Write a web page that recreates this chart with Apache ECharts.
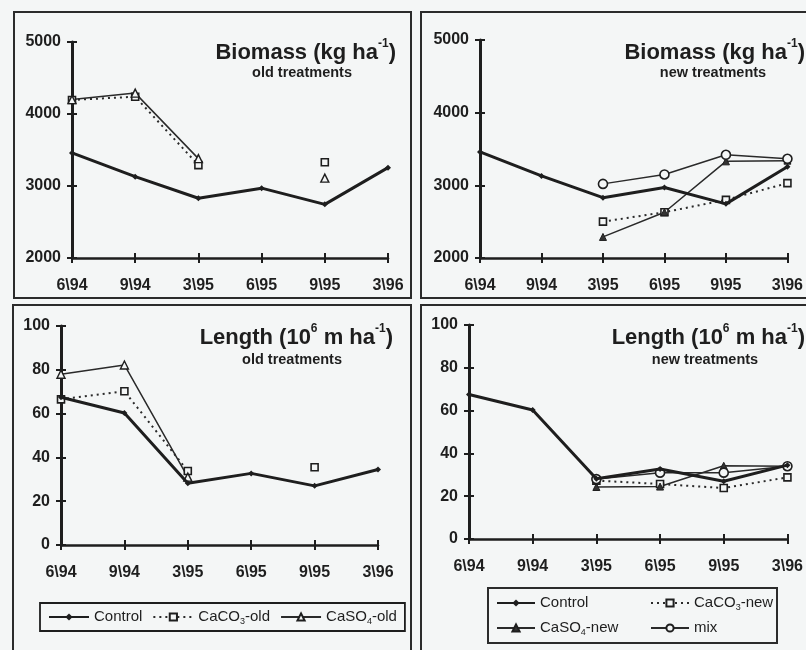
<!DOCTYPE html>
<html>
<head>
<meta charset="utf-8">
<script src="https://cdn.jsdelivr.net/npm/echarts@6/dist/echarts.min.js"></script>
<style>
html,body{margin:0;padding:0;background:#f4f6f6;}
#c{width:806px;height:650px;}
</style>
</head>
<body>
<div id="c"></div>
<script>
// ---- data ----
const categories = ["6\\94", "9\\94", "3\\95", "6\\95", "9\\95", "3\\96"];
const biomassTicks = [2000, 3000, 4000, 5000];
const lengthTicks = [0, 20, 40, 60, 80, 100];

const biomassControl  = [3460, 3130, 2830, 2970, 2745, 3255];
const biomassCaCO3Old = [4195, 4240, 3290, null, 3330, null];
const biomassCaSO4Old = [4200, 4290, 3380, null, 3110, null];
const biomassCaCO3New = [null, null, 2500, 2630, 2800, 3030];
const biomassCaSO4New = [null, null, 2290, 2630, 3330, 3340];
const biomassMix      = [null, null, 3020, 3150, 3420, 3365];

const lengthControl  = [67.5, 60.3, 28.2, 32.7, 27, 34.5];
const lengthCaCO3Old = [66.5, 70.2, 33.8, null, 35.5, null];
const lengthCaSO4Old = [78, 82.2, 31, null, null, null];
const lengthCaCO3New = [null, null, 27.3, 25.7, 23.8, 28.8];
const lengthCaSO4New = [null, null, 24.3, 24.5, 34.2, 34];
const lengthMix      = [null, null, 28, 31, 31, 34];

const seriesNames = {
  control: "Control", caco3Old: "CaCO3-old", caso4Old: "CaSO4-old",
  caco3New: "CaCO3-new", caso4New: "CaSO4-new", mix: "mix"
};
const legendLabels = {
  "Control": "Control", "CaCO3-old": "CaCO{sub|3}-old", "CaSO4-old": "CaSO{sub|4}-old",
  "CaCO3-new": "CaCO{sub|3}-new", "CaSO4-new": "CaSO{sub|4}-new", "mix": "mix"
};

// ---- styling ----
const BG = '#f4f6f6';
const INK = '#1e1e1e';
const FONT = '"Liberation Sans", Arial, sans-serif';

const grids = [
  {left: 72, right: 418, top: 42, bottom: 392},
  {left: 480, right: 16, top: 40, bottom: 392},
  {left: 61, right: 428, top: 326, bottom: 105},
  {left: 469, right: 14, top: 325, bottom: 111}
];

function xAxes(gi) {
  return [
    {gridIndex: gi, type: 'category', data: categories, boundaryGap: false, position: 'bottom',
     axisLine: {lineStyle: {color: INK, width: 2.5}},
     axisTick: {length: 5, lineStyle: {color: INK, width: 2}},
     axisLabel: {color: INK, fontSize: 16, fontWeight: 'bold', fontFamily: FONT, margin: 20},
     splitLine: {show: false}},
    {gridIndex: gi, type: 'category', data: categories, boundaryGap: false, position: 'bottom',
     axisLine: {show: false},
     axisTick: {inside: true, length: 5, lineStyle: {color: INK, width: 2}},
     axisLabel: {show: false}, splitLine: {show: false}}
  ];
}
function yAxes(gi, ticks) {
  const mn = ticks[0], mx = ticks[ticks.length - 1], iv = ticks[1] - ticks[0];
  return [
    {gridIndex: gi, type: 'value', min: mn, max: mx, interval: iv, position: 'left',
     axisLine: {show: true, lineStyle: {color: INK, width: 3}},
     axisTick: {show: true, length: 5, lineStyle: {color: INK, width: 2}},
     axisLabel: {color: INK, fontSize: 16, fontWeight: 'bold', fontFamily: FONT, margin: 11,
       formatter: v => String(v)},
     splitLine: {show: false}},
    {gridIndex: gi, type: 'value', min: mn, max: mx, interval: iv, position: 'left',
     axisLine: {show: false},
     axisTick: {show: true, inside: true, length: 5, lineStyle: {color: INK, width: 2}},
     axisLabel: {show: false}, splitLine: {show: false}}
  ];
}

function styleFor(kind) {
  switch (kind) {
    case 'control': return {lineStyle: {color: INK, width: 3}, symbol: 'diamond', symbolSize: 6,
      itemStyle: {color: INK}, z: 4};
    case 'caco3Old': case 'caco3New': return {lineStyle: {color: '#2a2a2a', width: 2, type: [2, 4]},
      symbol: 'rect', symbolSize: 7, itemStyle: {color: BG, borderColor: INK, borderWidth: 1.6}, z: 3};
    case 'caso4Old': return {lineStyle: {color: '#2a2a2a', width: 1.5}, symbol: 'triangle', symbolSize: 8,
      itemStyle: {color: BG, borderColor: INK, borderWidth: 1.4}, z: 3};
    case 'caso4New': return {lineStyle: {color: '#2a2a2a', width: 1.5}, symbol: 'triangle', symbolSize: 7,
      itemStyle: {color: '#333', borderColor: INK, borderWidth: 1}, z: 3};
    case 'mix': return {lineStyle: {color: '#2a2a2a', width: 1.5}, symbol: 'circle', symbolSize: 9,
      itemStyle: {color: BG, borderColor: INK, borderWidth: 1.6}, z: 3};
  }
}

function mk(kind, gi, data) {
  return Object.assign({type: 'line', name: seriesNames[kind], xAxisIndex: gi * 2, yAxisIndex: gi * 2,
    data: data, showSymbol: true, showAllSymbol: true, connectNulls: false, animation: false}, styleFor(kind));
}

const series = [
  mk('control', 0, biomassControl), mk('caco3Old', 0, biomassCaCO3Old), mk('caso4Old', 0, biomassCaSO4Old),
  mk('control', 1, biomassControl), mk('caco3New', 1, biomassCaCO3New), mk('caso4New', 1, biomassCaSO4New), mk('mix', 1, biomassMix),
  mk('control', 2, lengthControl), mk('caco3Old', 2, lengthCaCO3Old), mk('caso4Old', 2, lengthCaSO4Old),
  mk('control', 3, lengthControl), mk('caco3New', 3, lengthCaCO3New), mk('caso4New', 3, lengthCaSO4New), mk('mix', 3, lengthMix)
];

const legendText = {color: INK, fontSize: 15, fontFamily: FONT, lineHeight: 18,
  rich: {sub: {fontSize: 9, fontFamily: FONT, color: INK, verticalAlign: 'bottom', lineHeight: 12}}};

const legends = [
  {data: ['Control', 'CaCO3-old', 'CaSO4-old'], left: 40, top: 603, orient: 'horizontal',
   itemWidth: 40, itemHeight: 9, itemGap: 10, padding: [5, 8], borderColor: INK, borderWidth: 1.8,
   formatter: n => legendLabels[n], textStyle: legendText, selectedMode: false},
  {data: ['Control', 'CaCO3-new'], left: 496, top: 594, orient: 'horizontal',
   itemWidth: 38, itemHeight: 9, itemGap: 10, padding: 0,
   formatter: n => legendLabels[n], textStyle: Object.assign({width: 100}, legendText), selectedMode: false},
  {data: ['CaSO4-new', 'mix'], left: 496, top: 619, orient: 'horizontal',
   itemWidth: 38, itemHeight: 9, itemGap: 10, padding: 0,
   formatter: n => legendLabels[n], textStyle: Object.assign({width: 100}, legendText), selectedMode: false}
];

function titleText(x, y, main) {
  return {type: 'text', x: x, y: y, z: 10, style: {
    text: main, align: 'right', verticalAlign: 'top', fill: INK,
    rich: {
      t: {fontSize: 22, fontWeight: 'bold', fontFamily: FONT, fill: INK, lineHeight: 26, verticalAlign: 'bottom'},
      sup: {fontSize: 12, fontWeight: 'bold', fontFamily: FONT, fill: INK, lineHeight: 16, verticalAlign: 'top'}
    }}};
}
function subText(x, y, s) {
  return {type: 'text', x: x, y: y, z: 10, style: {text: s, align: 'center', verticalAlign: 'middle',
    fontSize: 14.5, fontWeight: 'bold', fontFamily: FONT, fill: INK}};
}
function box(x1, y1, x2, y2) {
  return {type: 'rect', z: 0, shape: {x: x1, y: y1, width: x2 - x1, height: y2 - y1},
    style: {fill: 'none', stroke: '#2b2b2b', lineWidth: 2}};
}

const graphics = [
  box(14, 12, 411, 298), box(421, 12, 812, 298),
  box(13, 305, 411, 656), box(421, 305, 812, 656),
  box(488, 588, 777, 643),
  titleText(396, 38, '{t|Biomass (kg ha}{sup|-1}{t|)}'),
  subText(302, 73, 'old treatments'),
  titleText(805, 38, '{t|Biomass (kg ha}{sup|-1}{t|)}'),
  subText(713, 73, 'new treatments'),
  titleText(393, 323, '{t|Length (10}{sup|6}{t| m ha}{sup|-1}{t|)}'),
  subText(292, 360, 'old treatments'),
  titleText(805, 323, '{t|Length (10}{sup|6}{t| m ha}{sup|-1}{t|)}'),
  subText(705, 360, 'new treatments')
];

const chart = echarts.init(document.getElementById('c'), null, {renderer: 'canvas'});
chart.setOption({
  backgroundColor: BG,
  animation: false,
  grid: grids,
  xAxis: [].concat(xAxes(0), xAxes(1), xAxes(2), xAxes(3)),
  yAxis: [].concat(yAxes(0, biomassTicks), yAxes(1, biomassTicks), yAxes(2, lengthTicks), yAxes(3, lengthTicks)),
  legend: legends,
  graphic: graphics,
  series: series
});
</script>
</body>
</html>
